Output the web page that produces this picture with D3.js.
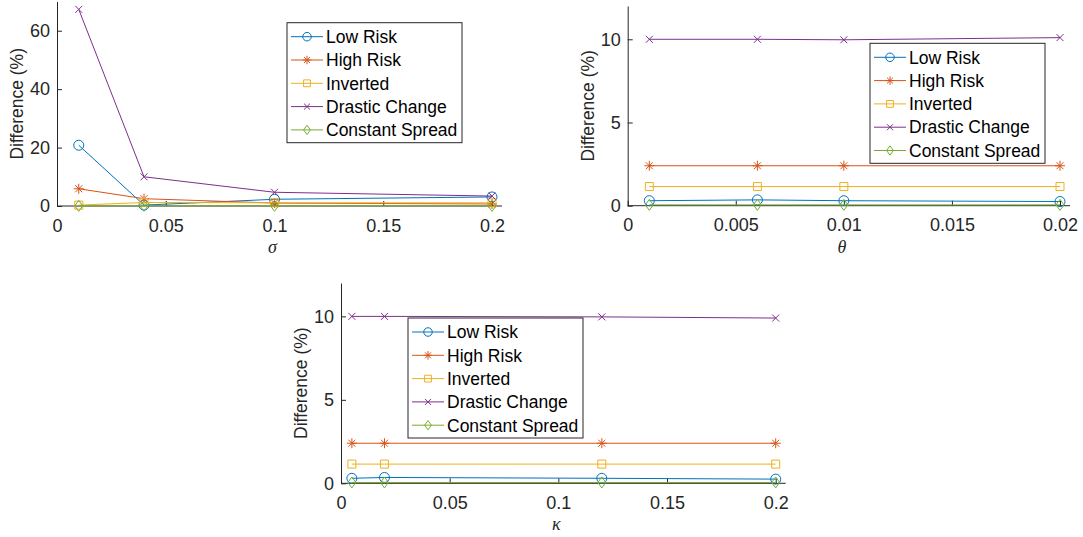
<!DOCTYPE html>
<html lang="en">
<head>
  <meta charset="UTF-8">
  <title>Difference vs parameters</title>
  <style>
    body { margin: 0; background: #fff; }
    svg { font-family: "Liberation Sans", Arial, sans-serif; }
    .axis path, .axis line { stroke: #262626; }
    .axis text { fill: #262626; font-size: 18px; }
    .line { fill: none; stroke-width: 1; }
    .marker { fill: none; stroke-width: 1; }
    .legend-box { fill: #fff; stroke: #262626; stroke-width: 1; }
    .legend text { font-size: 17.5px; fill: #000; }
    .ylabel { font-size: 17.5px; fill: #262626; }
    .xlabel { font-family: "Liberation Serif", "DejaVu Serif", serif; font-style: italic; font-size: 18px; fill: #262626; }
  </style>
</head>
<body>
<div id="chart"></div>
<script src="https://d3js.org/d3.v7.min.js"></script>
<script>
  const seriesNames = ['Low Risk', 'High Risk', 'Inverted', 'Drastic Change', 'Constant Spread'];
  const colors = ['#0072BD', '#D95319', '#EDB120', '#7E2F8E', '#77AC30'];
  const markers = ['circle', 'star', 'square', 'cross', 'diamond'];

  // sigma panel
  const sigmaX = [0.01, 0.04, 0.1, 0.2];
  const sigmaLow = [20.8, 0.3, 2.3, 3.1];
  const sigmaHigh = [5.9, 2.5, 1.0, 0.7];
  const sigmaInv = [0.3, 1.2, 1.1, 1.1];
  const sigmaDrastic = [67.3, 10.0, 4.7, 3.4];
  const sigmaConst = [0.05, 0.05, 0.05, 0.05];
  const sigmaXTicks = [0, 0.05, 0.1, 0.15, 0.2];
  const sigmaYTicks = [0, 20, 40, 60];

  // theta panel
  const thetaX = [0.001, 0.006, 0.01, 0.02];
  const thetaLow = [0.3, 0.35, 0.3, 0.25];
  const thetaHigh = [2.4, 2.4, 2.4, 2.4];
  const thetaInv = [1.15, 1.15, 1.15, 1.15];
  const thetaDrastic = [10.0, 10.0, 9.97, 10.1];
  const thetaConst = [0.05, 0.05, 0.05, 0.05];
  const thetaXTicks = [0, 0.005, 0.01, 0.015, 0.02];
  const thetaYTicks = [0, 5, 10];

  // kappa panel
  const kappaX = [0.005, 0.02, 0.12, 0.2];
  const kappaLow = [0.3, 0.35, 0.3, 0.25];
  const kappaHigh = [2.4, 2.4, 2.4, 2.4];
  const kappaInv = [1.15, 1.15, 1.15, 1.15];
  const kappaDrastic = [10.0, 10.0, 9.97, 9.9];
  const kappaConst = [0.05, 0.05, 0.05, 0.05];
  const kappaXTicks = [0, 0.05, 0.1, 0.15, 0.2];
  const kappaYTicks = [0, 5, 10];

  const svg = d3.select('#chart').append('svg')
    .attr('width', 1083).attr('height', 537);

  function markerPath(type, s) {
    const r = 5 * s;
    switch (type) {
      case 'circle':
        return `M${r},0A${r},${r} 0 1,1 ${-r},0A${r},${r} 0 1,1 ${r},0Z`;
      case 'square':
        return `M${-4 * s},${-4 * s}H${4 * s}V${4 * s}H${-4 * s}Z`;
      case 'diamond':
        return `M0,${-5.5 * s}L${4 * s},0L0,${5.5 * s}L${-4 * s},0Z`;
      case 'cross':
        return `M${-3.5 * s},${-3.5 * s}L${3.5 * s},${3.5 * s}M${-3.5 * s},${3.5 * s}L${3.5 * s},${-3.5 * s}`;
      case 'star':
        return `M0,${-5 * s}V${5 * s}M${-5 * s},0H${5 * s}M${-3.5 * s},${-3.5 * s}L${3.5 * s},${3.5 * s}M${-3.5 * s},${3.5 * s}L${3.5 * s},${-3.5 * s}`;
    }
  }

  function drawPanel(p) {
    const g = svg.append('g');
    const x = d3.scaleLinear().domain(p.xDomain).range([p.left, p.right]);
    const y = d3.scaleLinear().domain(p.yDomain).range([p.bottom, p.top]);

    // axes (MATLAB style: inward ticks, no box)
    g.append('g').attr('class', 'axis')
      .attr('transform', `translate(0,${p.bottom})`)
      .call(d3.axisBottom(x).tickValues(p.xTicks).tickSize(-5).tickPadding(13)
        .tickFormat(d3.format('~g')).tickSizeOuter(0))
      .call(a => a.select('.domain').attr('d', `M${p.left},0H${p.right + 10}`));
    g.append('g').attr('class', 'axis')
      .attr('transform', `translate(${p.left},0)`)
      .call(d3.axisLeft(y).tickValues(p.yTicks).tickSize(-5).tickPadding(7)
        .tickFormat(d3.format('~g')).tickSizeOuter(0));

    const line = d3.line().x((d, i) => x(p.xs[i])).y(d => y(d));

    p.series.forEach((vals, k) => {
      g.append('path').attr('class', 'line')
        .attr('d', line(vals)).attr('stroke', colors[k]);
      g.selectAll(null).data(vals).enter().append('path')
        .attr('class', 'marker')
        .attr('transform', (d, i) => `translate(${x(p.xs[i])},${y(d)})`)
        .attr('d', markerPath(markers[k], 1))
        .attr('stroke', colors[k]);
    });

    g.append('text').attr('class', 'ylabel')
      .attr('transform', `translate(${p.left - 40},${(p.top + p.bottom) / 2}) rotate(-90)`)
      .attr('text-anchor', 'middle').attr('dy', '0.35em')
      .text('Difference (%)');

    g.append('text').attr('class', 'xlabel')
      .attr('x', (p.left + p.right) / 2 - 2).attr('y', p.bottom + 47)
      .attr('text-anchor', 'middle').text(p.xLabel);

    // legend
    const lg = g.append('g').attr('class', 'legend')
      .attr('transform', `translate(${p.legendX},${p.legendY})`);
    lg.append('rect').attr('class', 'legend-box')
      .attr('width', 175).attr('height', 120);
    seriesNames.forEach((name, k) => {
      const cy = 14 + k * 23.3;
      lg.append('line').attr('x1', 4).attr('x2', 36).attr('y1', cy).attr('y2', cy)
        .attr('stroke', colors[k]);
      lg.append('path').attr('class', 'marker')
        .attr('transform', `translate(20,${cy})`)
        .attr('d', markerPath(markers[k], 0.85)).attr('stroke', colors[k]);
      lg.append('text').attr('x', 39).attr('y', cy).attr('dy', '0.36em').text(name);
    });
  }

  drawPanel({
    left: 57, right: 492, top: 1.5, bottom: 206,
    xDomain: [0, 0.2], yDomain: [0, 70],
    xTicks: sigmaXTicks, yTicks: sigmaYTicks, xs: sigmaX,
    series: [sigmaLow, sigmaHigh, sigmaInv, sigmaDrastic, sigmaConst],
    xLabel: 'σ', legendX: 287, legendY: 22.7
  });

  drawPanel({
    left: 627.7, right: 1060, top: 6, bottom: 205.7,
    xDomain: [0, 0.02], yDomain: [0, 12],
    xTicks: thetaXTicks, yTicks: thetaYTicks, xs: thetaX,
    series: [thetaLow, thetaHigh, thetaInv, thetaDrastic, thetaConst],
    xLabel: 'θ', legendX: 870, legendY: 43.3
  });

  drawPanel({
    left: 341, right: 775.7, top: 283, bottom: 483.3,
    xDomain: [0, 0.2], yDomain: [0, 12],
    xTicks: kappaXTicks, yTicks: kappaYTicks, xs: kappaX,
    series: [kappaLow, kappaHigh, kappaInv, kappaDrastic, kappaConst],
    xLabel: 'κ', legendX: 408, legendY: 318
  });
</script>
</body>
</html>
